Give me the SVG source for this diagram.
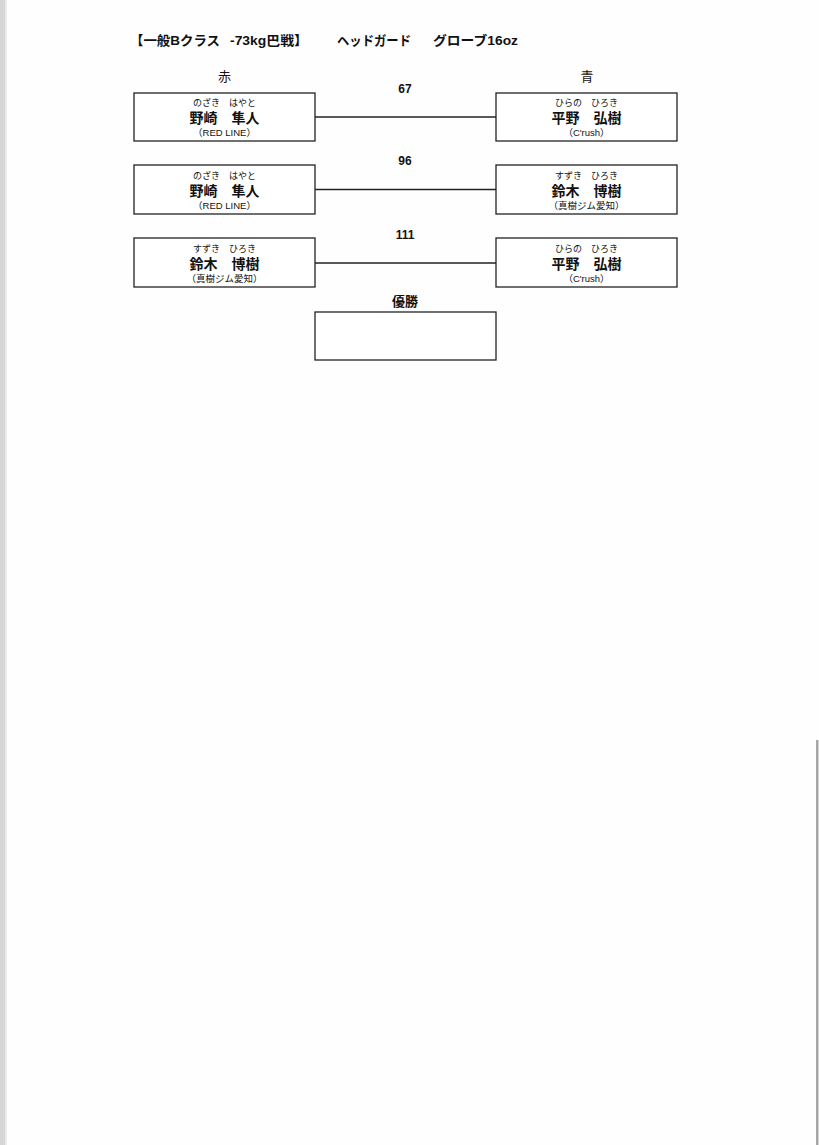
<svg xmlns="http://www.w3.org/2000/svg" width="819" height="1145" viewBox="0 0 819 1145">
<style>
.box{fill:#fff;stroke:#222;stroke-width:1.3}
.conn{stroke:#222;stroke-width:1.3;fill:none}
text{font-family:"Liberation Sans","Noto Sans CJK JP",sans-serif;fill:#111;text-anchor:middle}
.t{font-size:13px;text-anchor:start;font-weight:bold}
.h{font-size:13px}
.f{font-size:9px}
.n{font-size:14px;font-weight:bold}
.a{font-size:9.5px}
.num{font-size:12px;font-weight:bold}
</style>
<rect x="0" y="0" width="819" height="1145" fill="#fefefe"/>
<rect x="0" y="0" width="5" height="1145" fill="#d6d6d6"/>
<rect x="5" y="0" width="2" height="1145" fill="#ececec"/>
<rect x="816" y="740" width="2.5" height="405" fill="#a6a6a6"/>
<g id="title">
<text class="t" x="130" y="45" textLength="90" lengthAdjust="spacingAndGlyphs">【一般Bクラス</text>
<text class="t" x="230" y="45" textLength="78" lengthAdjust="spacingAndGlyphs">-73kg巴戦】</text>
<text class="t" x="337" y="45" textLength="74" lengthAdjust="spacingAndGlyphs">ヘッドガード</text>
<text class="t" x="433" y="45" textLength="85" lengthAdjust="spacingAndGlyphs">グローブ16oz</text>
</g>
<text class="h" x="224.5" y="81">赤</text>
<text class="h" x="587" y="81">青</text>
<g id="connectors">
<line class="conn" x1="315" y1="117" x2="496" y2="117"/>
<line class="conn" x1="315" y1="189.5" x2="496" y2="189.5"/>
<line class="conn" x1="315" y1="263" x2="496" y2="263"/>
</g>
<g id="labels">
<text class="num" x="405" y="93">67</text>
<text class="num" x="405" y="165">96</text>
<text class="num" x="405" y="239">111</text>
</g>
<g id="r1">
<rect class="box" x="134" y="93" width="181" height="48"/>
<text class="f" x="224.5" y="106">のざき　はやと</text>
<text class="n" x="224.5" y="123">野崎　隼人</text>
<text class="a" x="224.5" y="136">（RED LINE）</text>
</g>
<g id="b1">
<rect class="box" x="496" y="93" width="181" height="48"/>
<text class="f" x="586.5" y="106">ひらの　ひろき</text>
<text class="n" x="586.5" y="123">平野　弘樹</text>
<text class="a" x="586.5" y="136">（C'rush）</text>
</g>
<g id="r2">
<rect class="box" x="134" y="165" width="181" height="49"/>
<text class="f" x="224.5" y="179">のざき　はやと</text>
<text class="n" x="224.5" y="196">野崎　隼人</text>
<text class="a" x="224.5" y="209">（RED LINE）</text>
</g>
<g id="b2">
<rect class="box" x="496" y="165" width="181" height="49"/>
<text class="f" x="586.5" y="179">すずき　ひろき</text>
<text class="n" x="586.5" y="196">鈴木　博樹</text>
<text class="a" x="586.5" y="209">（真樹ジム愛知）</text>
</g>
<g id="r3">
<rect class="box" x="134" y="238" width="181" height="49"/>
<text class="f" x="224.5" y="252">すずき　ひろき</text>
<text class="n" x="224.5" y="269">鈴木　博樹</text>
<text class="a" x="224.5" y="282">（真樹ジム愛知）</text>
</g>
<g id="b3">
<rect class="box" x="496" y="238" width="181" height="49"/>
<text class="f" x="586.5" y="252">ひらの　ひろき</text>
<text class="n" x="586.5" y="269">平野　弘樹</text>
<text class="a" x="586.5" y="282">（C'rush）</text>
</g>
<g id="winner">
<text class="h" x="405" y="306" font-weight="bold">優勝</text>
<rect class="box" x="315" y="312" width="181" height="48"/>
</g>
</svg>
